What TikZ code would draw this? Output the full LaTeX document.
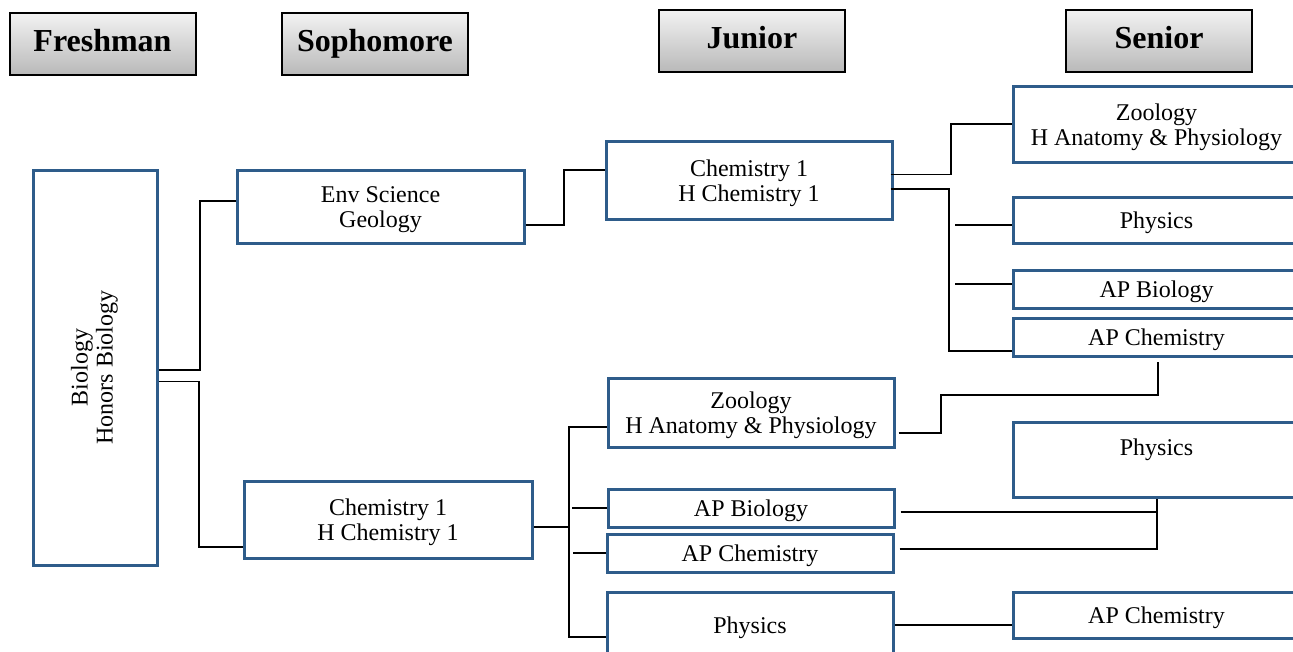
\documentclass[tikz,border=0pt]{standalone}
\usepackage{fontspec}
\setmainfont{Liberation Serif}
\usepackage{tikz}
\usetikzlibrary{calc}
\definecolor{boxblue}{HTML}{2E5C8A}

\begin{document}
\begin{tikzpicture}[x=1pt, y=-1pt,
  year/.style={draw=black, line width=2pt, top color=gray!10, bottom color=gray!55,
    minimum width=186pt, minimum height=62pt, inner sep=0pt,
    text height=22pt, text depth=8pt, font=\fontsize{32}{36}\selectfont\bfseries},
  course/.style={draw=boxblue, line width=3pt, fill=white, inner sep=0pt, align=center,
    minimum width=287pt, text height=17pt, text depth=0pt, font=\fontsize{24}{25}\selectfont},
  twoline/.style={course, text height=42pt},
  link/.style={line width=1.5pt, black}]
\useasboundingbox (0,0) rectangle (1293,651);
\clip (0,0) rectangle (1293,651);
% year headers
\node[year] (fresh) at (102.5,44) {Freshman};
\node[year] (soph) at (375,44) {Sophomore};
\node[year] (junior) at (752,41) {Junior};
\node[year] (senior) at (1159,41) {Senior};
% courses
\node[twoline, minimum width=395pt, minimum height=124pt, text height=35pt, rotate=90] (bio) at (95,367.5) {Biology\\Honors Biology};
\node[twoline, minimum height=73pt] (envsci) at (380.5,206.5) {Env Science\\Geology};
\node[twoline, minimum width=288pt, minimum height=77pt] (chemS) at (388,519.5) {Chemistry 1\\H Chemistry 1};
\node[twoline, minimum width=286pt, minimum height=78pt] (chemJ) at (749,180) {Chemistry 1\\H Chemistry 1};
\node[twoline, minimum width=286pt, minimum height=69pt] (zooJ) at (751,412.5) {Zoology\\H Anatomy \& Physiology};
\node[course, minimum width=286pt, minimum height=38pt] (apbioJ) at (751,508) {AP Biology};
\node[course, minimum width=286pt, minimum height=38pt] (apchemJ) at (750,553) {AP Chemistry};
\node[course, minimum width=286pt, minimum height=66pt] (physJ) at (750,625) {Physics};
\node[twoline, minimum height=76pt] (zooS) at (1156.5,124) {Zoology\\H Anatomy \& Physiology};
\node[course, minimum height=46pt] (physS) at (1156.5,220) {Physics};
\node[course, minimum height=38pt] (apbioS) at (1156.5,289) {AP Biology};
\node[course, minimum height=38pt] (apchemS) at (1156.5,337) {AP Chemistry};
\node[twoline, minimum height=75pt] (physS2) at (1156.5,459.5) {Physics\\~};
\node[course, minimum height=46pt] (apchemS2) at (1156.5,615) {AP Chemistry};
% elbows and free ends
\coordinate (j1) at (200,201);
\coordinate (j2) at (199,547);
\coordinate (j3) at (564,170);
\coordinate (j4) at (951,124);
\coordinate (j5) at (949,351);
\coordinate (j6) at (569,527);
\coordinate (j7) at (941,395);
\coordinate (t1) at (569,427);
\coordinate (t2) at (569,637);
\coordinate (s1) at (955,225);
\coordinate (s2) at (955,284);
\coordinate (s3) at (572,508);
\coordinate (s4) at (573,553);
\coordinate (e1) at (1158,362);
\coordinate (e2) at (1157,499);
\coordinate (k1) at (1157,512);
% connectors
\draw[link] ($(bio.south)+(0,2.5)$) -| (j1) -- (j1 -| envsci.west);
\draw[link] ($(bio.south)+(0,14)$) -| (j2) -- (j2 -| chemS.west);
\draw[link] ($(envsci.east)+(0,18.5)$) -| (j3) -- (j3 -| chemJ.west);
\draw[link] ($(chemJ.east)+(-3,-5.5)$) -| (j4) -- (j4 -| zooS.west);
\draw[link] ($(chemJ.east)+(-3,9)$) -| (j5) -- (j5 -| apchemS.west);
\draw[link] (s1) -- (s1 -| physS.west);
\draw[link] (s2) -- (s2 -| apbioS.west);
\draw[link] (j6 -| chemS.east) -- (j6);
\draw[link] (t1 -| zooJ.west) -- (t1) -- (t2) -- (t2 -| physJ.west);
\draw[link] (s3) -- (s3 -| apbioJ.west);
\draw[link] (s4) -- (s4 -| apchemJ.west);
\draw[link] ($(zooJ.east)+(3,20.5)$) -| (j7) -| (e1);
\draw[link] ($(apbioJ.east)+(5,4)$) -- (k1);
\draw[link] ($(apchemJ.east)+(5,-4)$) -| (e2);
\draw[link] (physJ.east) -- (physJ.east -| apchemS2.west);
\end{tikzpicture}
\end{document}
